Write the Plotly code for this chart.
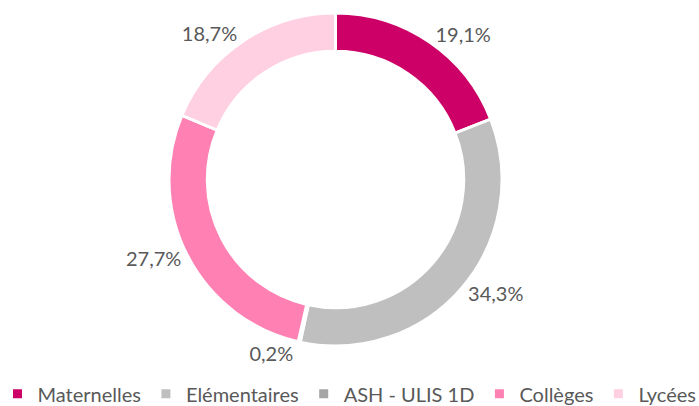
import plotly.graph_objects as go

categories = ["Maternelles", "Elémentaires", "ASH - ULIS 1D", "Collèges", "Lycées"]
values = [19.1, 34.3, 0.2, 27.7, 18.7]
colors = ["#CC0066", "#BFBFBF", "#A5A5A5", "#FF80B2", "#FFCFE2"]

W, H = 699, 406
fig = go.Figure(go.Pie(
    labels=categories,
    values=values,
    sort=False,
    direction="clockwise",
    rotation=0,
    hole=0.77,
    marker=dict(colors=colors, line=dict(color="white", width=3)),
    texttemplate="%{value:.1f}%",
    textposition="outside",
    outsidetextfont=dict(family="Lato", size=20, color="#595959"),
    domain=dict(x=[169 / W, 502 / W], y=[(H - 346) / H, (H - 13) / H]),
))

fig.update_layout(
    width=W, height=H,
    separators=", ",
    margin=dict(l=0, r=0, t=0, b=0, autoexpand=False),
    paper_bgcolor="white",
    plot_bgcolor="white",
    font=dict(family="Lato", size=20, color="#595959"),
    showlegend=True,
    legend=dict(orientation="h", x=0.5, xanchor="center", y=0.03, yanchor="middle",
                font=dict(family="Lato", size=20, color="#595959"),
                bgcolor="rgba(0,0,0,0)"),
)

fig.write_html("out.html", config={"displayModeBar": False},
               post_script="document.body.style.margin='0';document.body.style.overflow='hidden';")
